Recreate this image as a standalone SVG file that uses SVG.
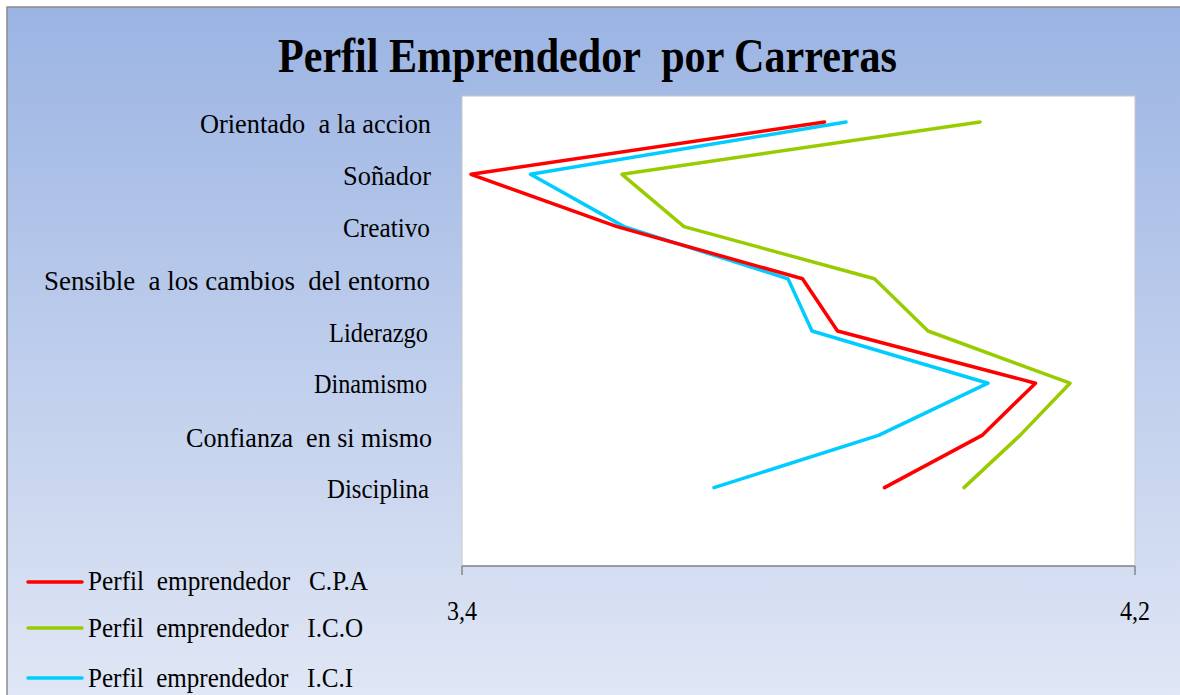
<svg xmlns="http://www.w3.org/2000/svg" width="1180" height="695" viewBox="0 0 1180 695">
<defs>
<linearGradient id="bg" x1="0" y1="0" x2="0" y2="1">
<stop offset="0" stop-color="#9bb4e3"/>
<stop offset="1" stop-color="#e1e7f5"/>
</linearGradient>
</defs>
<style>
text{font-family:"Liberation Serif","Times New Roman",serif;fill:#000;white-space:pre}
.lbl{font-size:27.5px;text-anchor:end}
.leg{font-size:27.5px}
.ax{font-size:27.5px}
.title{font-size:49px;font-weight:bold}
.s{fill:none;stroke-width:3.5;stroke-linejoin:round;stroke-linecap:round}
.red{stroke:#ff0000}
.grn{stroke:#99cc00}
.cyn{stroke:#00ccff}
</style>
<rect x="0" y="0" width="1180" height="695" fill="#ffffff"/>
<rect x="7" y="7" width="1190" height="700" fill="url(#bg)" stroke="#8c8c8c" stroke-width="1.5"/>
<g id="title">
<text class="title" x="278" y="72" textLength="619" lengthAdjust="spacingAndGlyphs">Perfil Emprendedor  por Carreras</text>
</g>
<g id="plot-area">
<rect x="462" y="96" width="673" height="470" fill="#ffffff" stroke="#c8c8c8" stroke-width="1"/>
<line x1="462" y1="566" x2="1135" y2="566" stroke="#868686" stroke-width="1.5"/>
<line x1="462" y1="566" x2="462" y2="575" stroke="#868686" stroke-width="1.5"/>
<line x1="1135" y1="566" x2="1135" y2="575" stroke="#868686" stroke-width="1.5"/>
</g>
<g id="category-labels">
<text class="lbl" x="431" y="133" textLength="231" lengthAdjust="spacingAndGlyphs">Orientado  a la accion</text>
<text class="lbl" x="431" y="185" textLength="88" lengthAdjust="spacingAndGlyphs">Soñador</text>
<text class="lbl" x="430" y="237" textLength="87" lengthAdjust="spacingAndGlyphs">Creativo</text>
<text class="lbl" x="430" y="290" textLength="386" lengthAdjust="spacingAndGlyphs">Sensible  a los cambios  del entorno</text>
<text class="lbl" x="428" y="342" textLength="99" lengthAdjust="spacingAndGlyphs">Liderazgo</text>
<text class="lbl" x="427" y="393" textLength="113" lengthAdjust="spacingAndGlyphs">Dinamismo</text>
<text class="lbl" x="432" y="447" textLength="246" lengthAdjust="spacingAndGlyphs">Confianza  en si mismo</text>
<text class="lbl" x="429" y="498" textLength="102" lengthAdjust="spacingAndGlyphs">Disciplina</text>
</g>
<g id="axis-labels">
<text class="ax" x="447" y="620" textLength="30" lengthAdjust="spacingAndGlyphs">3,4</text>
<text class="ax" x="1120" y="620" textLength="30" lengthAdjust="spacingAndGlyphs">4,2</text>
</g>
<g id="connectors">
<polyline id="series-ici" class="s cyn" points="846,122 530.5,174.3 624,226.6 788,278.8 812,331 988,383.2 878.5,435.4 714,487.6"/>
<polyline id="series-ico" class="s grn" points="980,122 622,174.3 684,226.6 874.5,278.8 928,331 1070,383.2 1020,435.4 964,487.6"/>
<polyline id="series-cpa" class="s red" points="824.5,122 471,174.3 617,226.6 802.5,278.8 837.5,331 1035.5,383.2 982,435.4 884.5,487.6"/>
</g>
<g id="legend">
<g id="legend-cpa">
<line class="s red" x1="28" y1="582" x2="82" y2="582"/>
<text class="leg" x="88" y="590" textLength="280" lengthAdjust="spacingAndGlyphs">Perfil  emprendedor   C.P.A</text>
</g>
<g id="legend-ico">
<line class="s grn" x1="28" y1="628" x2="82" y2="628"/>
<text class="leg" x="88" y="637" textLength="275" lengthAdjust="spacingAndGlyphs">Perfil  emprendedor   I.C.O</text>
</g>
<g id="legend-ici">
<line class="s cyn" x1="28" y1="678" x2="82" y2="678"/>
<text class="leg" x="88" y="687" textLength="265" lengthAdjust="spacingAndGlyphs">Perfil  emprendedor   I.C.I</text>
</g>
</g>
</svg>
